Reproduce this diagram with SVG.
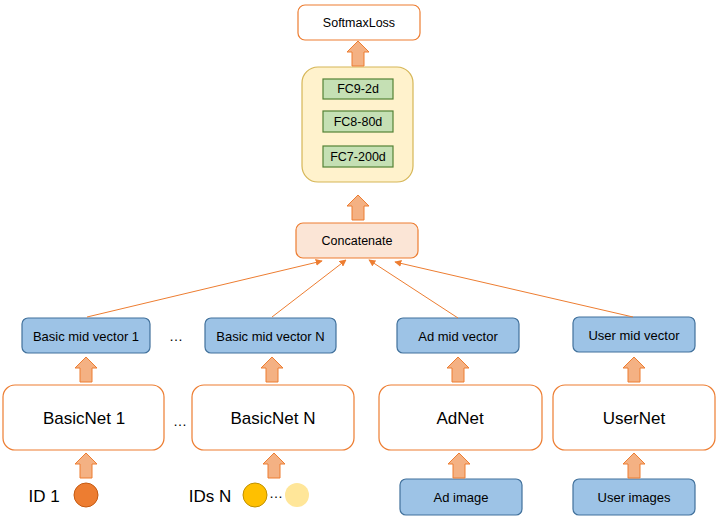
<svg xmlns="http://www.w3.org/2000/svg" width="720" height="521" viewBox="0 0 720 521">
<defs>
<style>
text{font-family:"Liberation Sans",Arial,sans-serif;fill:#000;text-anchor:middle;dominant-baseline:central}
.net{fill:#fff;stroke:#ED7D31;stroke-width:1.2}
.blue{fill:#9DC3E6;stroke:#41719C;stroke-width:1.2}
.green{fill:#C5E0B4;stroke:#548235;stroke-width:1.2}
.barrow{fill:#F4B183;stroke:#ED7D31;stroke-width:1}
.line{stroke:#ED7D31;stroke-width:1;fill:none;marker-end:url(#ah)}
.s12{font-size:12.5px}.s13{font-size:13px}.s17{font-size:17px}.dot{font-size:14px;fill:#000}
</style>
<marker id="ah" viewBox="0 0 10 10" refX="9" refY="5" markerWidth="7" markerHeight="7" orient="auto" markerUnits="userSpaceOnUse"><path d="M0,0L10,5L0,10z" fill="#ED7D31"/></marker>
<path id="ba" d="M-6,0V-14H-11L0,-25L11,-14H6V0Z"/>
</defs>
<g id="softmax"><rect x="298" y="5" width="122" height="35" rx="7" class="net" stroke="#C55A11"/><text x="359" y="22.5" class="s12">SoftmaxLoss</text></g>
<g id="fc"><rect x="302" y="67" width="111" height="115" rx="16" fill="#FFF2CC" stroke="#D6B656" stroke-width="1.2"/>
<rect x="323" y="79" width="70" height="20" class="green"/><text x="358" y="89" class="s12">FC9-2d</text>
<rect x="323" y="111" width="70" height="21" class="green"/><text x="358" y="121.5" class="s12">FC8-80d</text>
<rect x="323" y="146" width="70" height="21" class="green"/><text x="358" y="156.5" class="s12">FC7-200d</text></g>
<g id="concat"><rect x="296" y="223" width="122" height="35" rx="7" fill="#FBE5D6" stroke="#ED7D31" stroke-width="1.2"/><text x="357" y="241" class="s12">Concatenate</text></g>
<g id="mv1"><rect x="22" y="318" width="128" height="35" rx="6" class="blue"/><text x="86" y="336" class="s13">Basic mid vector 1</text></g>
<g id="mvN"><rect x="205" y="318" width="131" height="35" rx="6" class="blue"/><text x="270.5" y="336" class="s13">Basic mid vector N</text></g>
<g id="mvAd"><rect x="397" y="318" width="122" height="35" rx="6" class="blue"/><text x="458" y="336" class="s13">Ad mid vector</text></g>
<g id="mvUser"><rect x="573" y="317" width="122" height="35" rx="6" class="blue"/><text x="634" y="335" class="s13">User mid vector</text></g>
<g id="bn1"><rect x="3" y="385" width="161" height="65" rx="12" class="net"/><text x="84" y="418" class="s17">BasicNet 1</text></g>
<g id="bnN"><rect x="192" y="385" width="162" height="65" rx="12" class="net"/><text x="273" y="418" class="s17">BasicNet N</text></g>
<g id="adnet"><rect x="379" y="385" width="163" height="65" rx="12" class="net"/><text x="460" y="418" class="s17">AdNet</text></g>
<g id="usernet"><rect x="553" y="385" width="162" height="65" rx="12" class="net"/><text x="634" y="418" class="s17">UserNet</text></g>
<g id="adimg"><rect x="400" y="479" width="122" height="36" rx="6" class="blue"/><text x="461" y="497" class="s13">Ad image</text></g>
<g id="userimg"><rect x="573" y="479" width="122" height="36" rx="6" class="blue"/><text x="634" y="497" class="s13">User images</text></g>
<g id="id1"><text x="44" y="496" class="s17">ID 1</text><circle cx="86" cy="495" r="12" fill="#ED7D31" stroke="#C55A11"/></g>
<g id="idsN"><text x="210" y="496" class="s17">IDs N</text><circle cx="255" cy="495" r="12" fill="#FFC000" stroke="#BF9000"/><text x="276" y="493" class="dot">…</text><circle cx="297" cy="495" r="12" fill="#FFE699"/></g>
<g id="dots"><text x="176" y="336" class="dot">…</text><text x="180" y="421" class="dot">…</text></g>
<g id="connectors">
<line x1="87" y1="317" x2="322" y2="261" class="line"/>
<line x1="272" y1="317" x2="346" y2="260" class="line"/>
<line x1="458" y1="318" x2="369" y2="260" class="line"/>
<line x1="633" y1="317" x2="395" y2="262" class="line"/>
<use href="#ba" x="358" y="66" class="barrow"/>
<use href="#ba" x="358" y="220" class="barrow"/>
<use href="#ba" x="86" y="382" class="barrow"/>
<use href="#ba" x="272" y="382" class="barrow"/>
<use href="#ba" x="458" y="382" class="barrow"/>
<use href="#ba" x="634" y="382" class="barrow"/>
<use href="#ba" x="86" y="478" class="barrow"/>
<use href="#ba" x="274" y="478" class="barrow"/>
<use href="#ba" x="459" y="478" class="barrow"/>
<use href="#ba" x="634" y="478" class="barrow"/>
</g>
</svg>
